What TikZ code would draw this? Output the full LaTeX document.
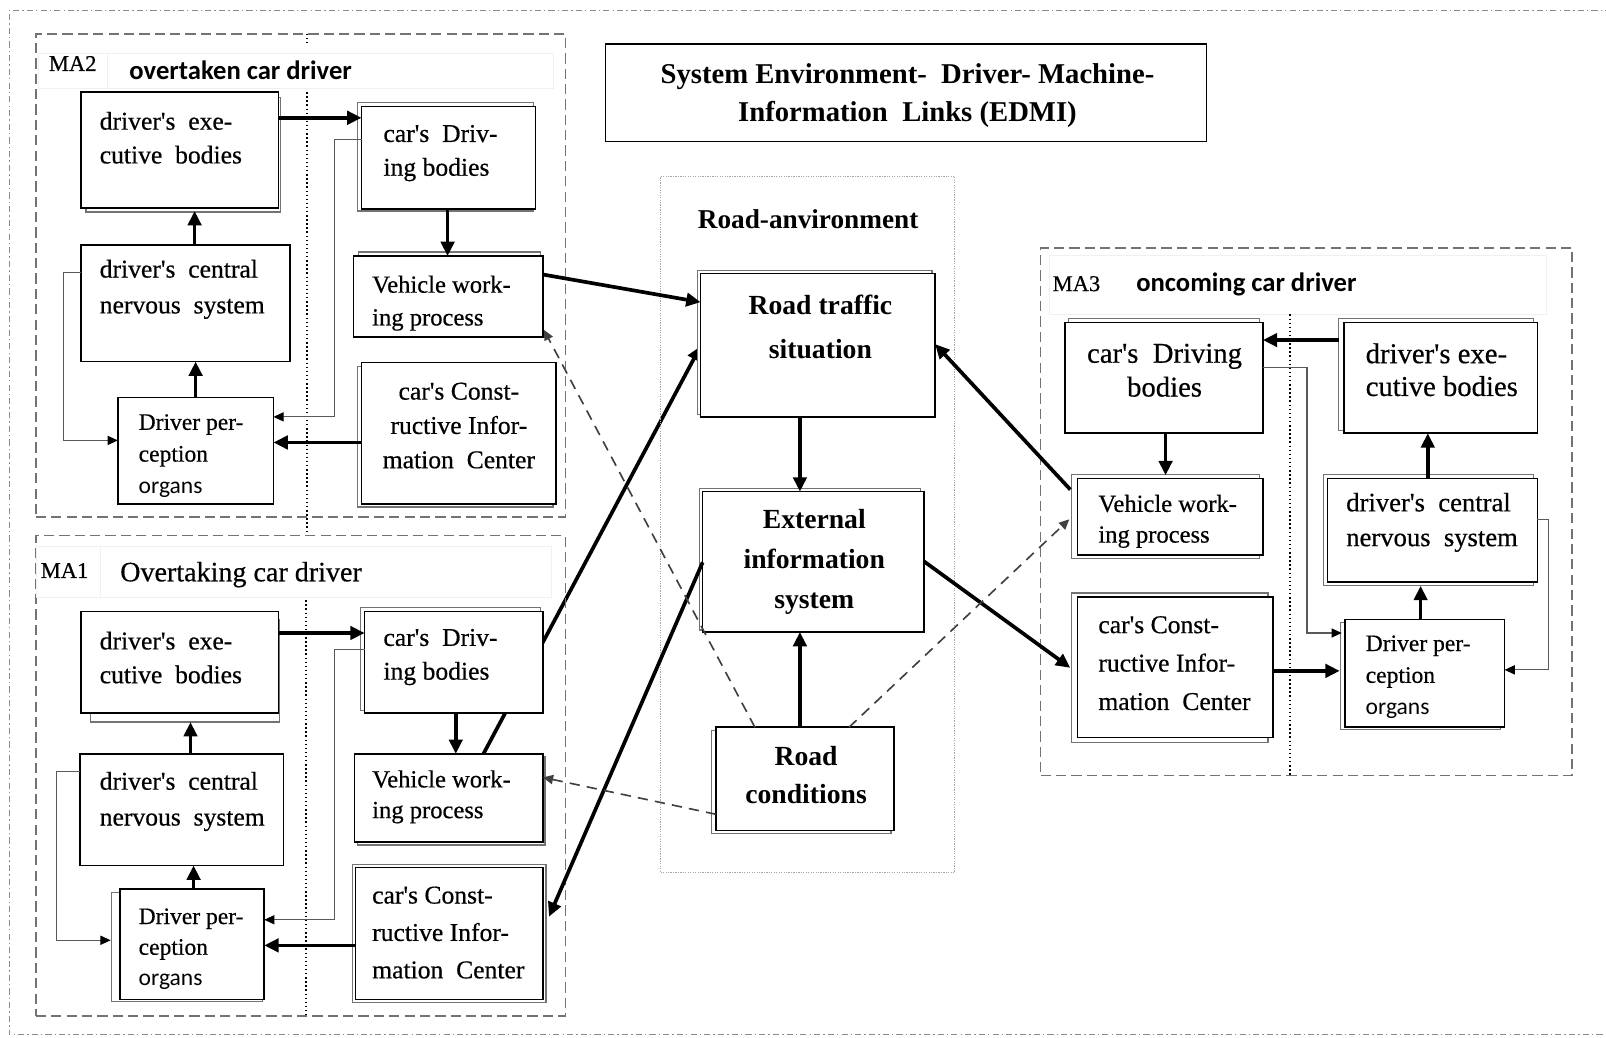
\documentclass[tikz,border=0pt]{standalone}
\usepackage{fontspec}
\setmainfont{Liberation Serif}[UprightFeatures={FakeBold=0.5}]
\newfontfamily\calfont{Carlito}
\usetikzlibrary{arrows.meta,fit,calc}
\pgfdeclarelayer{bgfill}
\pgfdeclarelayer{back}
\pgfsetlayers{bgfill,back,main}
\newcommand\apos{\textquotesingle}
\newcommand\fz[2]{\fontsize{#1}{#2}\selectfont}
% a framed block given by its two corners (x1,y1) (x2,y2)
\newcommand\boxnode[5]{\node[blk,fit={(#2,#3) (#4,#5)}] (#1) {};}
% the offset outline that sits behind a block
\newcommand\backrect[4]{\draw[shdl] (#1,#2) rectangle (#3,#4);}
\tikzset{
  blk/.style={draw=black, line width=0.75pt, fill=white, inner sep=0pt, outer sep=0pt},
  shdl/.style={draw=black!55, line width=0.6pt, fill=white},
  txt/.style={inner sep=0pt, align=left, anchor=west, font=\fz{12.5pt}{16.5pt}},
  ctxt/.style={inner sep=0pt, align=center, anchor=center},
  cbold/.style={inner sep=0pt, align=center, font=\bfseries\fz{13.5pt}{20pt}},
  thk/.style={line width=1.8pt, -{Triangle[length=7pt,width=6.5pt]}},
  thn/.style={line width=0.55pt, draw=black!65, -{Triangle[length=5pt,width=4.5pt,color=black]}},
  dsh/.style={line width=0.8pt, draw=black!75, dash pattern=on 5pt off 3.5pt, -{Triangle[length=5pt,width=4.5pt]}},
  grp/.style={draw=black!55, line width=0.75pt, dash pattern=on 5pt off 2.5pt, inner sep=0pt},
  sep/.style={draw=black, line width=1pt, dash pattern=on 0.7pt off 1.3pt},
  outer/.style={draw=black!45, line width=0.6pt, dash pattern=on 3pt off 1.5pt on 0.7pt off 1.5pt},
  envbox/.style={draw=black!35, line width=0.6pt, dash pattern=on 0.6pt off 0.6pt, inner sep=0pt},
  faint/.style={draw=black!6, line width=0.5pt},
  malab/.style={inner sep=0pt, font=\fz{11pt}{13pt}},
  hdr/.style={inner sep=0pt, anchor=west, font=\calfont\bfseries\fz{13pt}{15pt}},
}
\begin{document}
\begin{tikzpicture}[x=0.5pt,y=-0.5pt]
\useasboundingbox (0,0) rectangle (1568,1013);
\begin{pgfonlayer}{bgfill}
\fill[white] (0,0) rectangle (1568,1013);
\end{pgfonlayer}
\draw[outer] (1600,10) -- (9,10) -- (9,1010) -- (1600,1010);

% ---------- title ----------
\node[blk,fit={(591,43) (1178,138)}] (title) {};
\node[ctxt,font=\bfseries\fz{14pt}{18.5pt}] (title-t) at (886,93.5)
  {System Environment-\ \ Driver- Machine-\\Information\ \ Links (EDMI)};

% ---------- MA2: overtaken car driver ----------
\node[grp,fit={(35,33) (552,505)}] (ma2) {};
\draw[faint] (38,52) rectangle (540,86);
\draw[faint] (38,52) rectangle (105,86);
\node[malab] (ma2-l) at (71,62) {MA2};
\node[hdr] (ma2-h) at (126,69) {overtaken car driver};
\draw[sep] (300,33) -- (300,43);
\draw[sep] (300,90) -- (300,523);

\backrect{84}{95}{274}{207}
\boxnode{e2}{79}{90}{272}{203}
\node[txt] (e2-t) at (97,134.5) {driver\apos s\ \ exe-\\cutive\ \ bodies};
\backrect{349}{100}{521}{206}
\boxnode{d2}{353}{104}{523}{204}
\node[txt] (d2-t) at (374,149.5) {car\apos s\ \ Driv-\\ing bodies};
\boxnode{c2}{79}{239}{283}{353}
\node[txt,font=\fz{12.5pt}{17.5pt}] (c2-t) at (97,282.5) {driver\apos s\ \ central\\nervous\ \ system};
\backrect{350}{246}{528}{327}
\boxnode{v2}{345}{250}{530}{329}
\node[txt,font=\fz{12pt}{16pt}] (v2-t) at (363,296) {Vehicle work-\\ing process};
\boxnode{p2}{115}{388}{267}{492}
\node[txt,font=\fz{11.5pt}{15.5pt}] (p2-t) at (135,445) {Driver per-\\ception\\{\calfont organs}};
\backrect{349}{358}{540}{495}
\boxnode{k2}{353}{354}{543}{492}
\node[ctxt,font=\fz{12.5pt}{16.75pt}] (k2-t) at (448,415.5) {car\apos s Const-\\ructive Infor-\\mation\ \ Center};

\draw[thk] (e2.east |- 0,115) -- (d2.west |- 0,115);
\draw[thk] (d2.south -| 437,0) -- (v2.north -| 437,0);
\draw[thk] (c2.north -| 190,0) -- ($(e2.south -| 190,0)+(0,3)$);
\draw[thk] (p2.north -| 191,0) -- (c2.south -| 191,0);
\draw[thk] (k2.west |- 0,432) -- (p2.east |- 0,432);
\draw[thn] (d2.west |- 0,136) -- (327,136) -- (327,407) -- (p2.east |- 0,407);
\draw[thn] (c2.west |- 0,266) -- (62,266) -- (62,430) -- (p2.west |- 0,430);

% ---------- MA1: overtaking car driver ----------
\node[grp,fit={(35,523) (552,992)}] (ma1) {};
\draw[faint] (36,534) rectangle (538,583);
\draw[faint] (36,534) rectangle (98,583);
\node[malab] (ma1-l) at (63,557) {MA1};
\node[inner sep=0pt,anchor=west,font=\fz{13.7pt}{15pt}] (ma1-h) at (117,561) {Overtaking car driver};
\draw[sep] (299,586) -- (299,992);

\backrect{88}{605}{273}{705}
\boxnode{e1}{79}{597}{272}{696}
\node[txt] (e1-t) at (97,642) {driver\apos s\ \ exe-\\cutive\ \ bodies};
\backrect{352}{593}{528}{694}
\boxnode{d1}{356}{597}{530}{696}
\node[txt] (d1-t) at (374,641.5) {car\apos s\ \ Driv-\\ing bodies};
\boxnode{c1}{78}{736}{277}{845}
\node[txt,font=\fz{12.5pt}{17.5pt}] (c1-t) at (97,782.5) {driver\apos s\ \ central\\nervous\ \ system};
\backrect{349}{739}{532}{825}
\boxnode{v1}{346}{736}{530}{822}
\node[txt,font=\fz{12pt}{15pt}] (v1-t) at (363,778) {Vehicle work-\\ing process};
\backrect{109}{871}{256}{978}
\boxnode{p1}{117}{868}{258}{976}
\node[txt,font=\fz{11.5pt}{15pt}] (p1-t) at (135,926.5) {Driver per-\\ception\\{\calfont organs}};
\backrect{344}{844}{533}{979}
\boxnode{k1}{347}{847}{530}{976}
\node[txt,font=\fz{12.5pt}{18.25pt}] (k1-t) at (363,910.5) {car\apos s Const-\\ructive Infor-\\mation\ \ Center};

\draw[thk] (e1.east |- 0,618) -- (d1.west |- 0,618);
\draw[thk] (d1.south -| 445,0) -- (v1.north -| 445,0);
\draw[thk] (c1.north -| 186,0) -- ($(e1.south -| 186,0)+(0,9)$);
\draw[thk] (p1.north -| 189,0) -- (c1.south -| 189,0);
\draw[thk] (k1.west |- 0,923) -- (p1.east |- 0,923);
\draw[thn] (d1.west |- 0,634) -- (327,634) -- (327,898) -- (p1.east |- 0,898);
\draw[thn] (c1.west |- 0,753) -- (55,753) -- (55,918) -- ($(p1.west |- 0,918)+(-9,0)$);

% ---------- road environment ----------
\node[envbox,fit={(645,172) (932,852)}] (env) {};
\node[inner sep=0pt,font=\bfseries\fz{13.3pt}{15pt}] (env-t) at (789,214) {Road-anvironment};
\backrect{681}{264}{910}{405}
\boxnode{rt}{684}{267}{913}{407}
\node[cbold,font=\bfseries\fz{13.5pt}{21.5pt}] (rt-t) at (801,319.5) {Road traffic\\situation};
\backrect{683}{477}{899}{615}
\boxnode{ei}{686}{480}{902}{617}
\node[cbold,font=\bfseries\fz{13.5pt}{19.5pt}] (ei-t) at (795,549) {External\\information\\system};
\backrect{695}{713}{870}{814}
\boxnode{rc}{699}{710}{873}{811}
\node[cbold,font=\bfseries\fz{13.5pt}{18.5pt}] (rc-t) at (787,756.5) {Road\\conditions};

% ---------- MA3: oncoming car driver ----------
\node[grp,fit={(1016,242) (1535,757)}] (ma3) {};
\draw[faint] (1025,249) rectangle (1510,307);
\node[malab] (ma3-l) at (1051,277) {MA3};
\node[hdr] (ma3-h) at (1109,278) {oncoming car driver};
\draw[sep] (1259,307) -- (1259,757);

\backrect{1043}{311}{1230}{420}
\boxnode{dr3}{1040}{315}{1233}{423}
\node[ctxt,font=\fz{14pt}{16.5pt}] (dr3-t) at (1137,361.5) {car\apos s\ \ Driving\\bodies};
\backrect{1307}{311}{1497}{420}
\boxnode{ex3}{1312}{315}{1501}{423}
\node[txt,font=\fz{14pt}{16pt}] (ex3-t) at (1333,361) {driver\apos s exe-\\cutive bodies};
\backrect{1046}{463}{1230}{545}
\boxnode{ve3}{1052}{467}{1233}{542}
\node[txt,font=\fz{12pt}{15pt}] (ve3-t) at (1072,509) {Vehicle work-\\ing process};
\backrect{1046}{579}{1238}{725}
\boxnode{k3}{1052}{583}{1243}{720}
\node[txt,font=\fz{12.5pt}{18.75pt}] (k3-t) at (1072,647.5) {car\apos s Const-\\ructive Infor-\\mation\ \ Center};
\backrect{1292}{463}{1497}{572}
\boxnode{cn3}{1296}{467}{1501}{568}
\node[txt,font=\fz{13pt}{17pt}] (cn3-t) at (1314,510) {driver\apos s\ \ central\\nervous\ \ system};
\backrect{1309}{608}{1465}{712}
\boxnode{p3}{1313}{605}{1469}{710}
\node[txt,font=\fz{11.5pt}{15.5pt}] (p3-t) at (1333,661) {Driver per-\\ception\\{\calfont organs}};

\draw[thk] ($(ex3.west |- 0,332)+(-5,0)$) -- (dr3.east |- 0,332);
\draw[thn] (dr3.east |- 0,359) -- (1276,359) -- (1276,618) -- ($(p3.west |- 0,618)+(-3,0)$);
\draw[thk] (dr3.south -| 1138,0) -- ($(ve3.north -| 1138,0)+(0,-3)$);
\draw[thk] (cn3.north -| 1394,0) -- (ex3.south -| 1394,0);
\draw[thk] (p3.north -| 1387,0) -- ($(cn3.south -| 1387,0)+(0,4)$);
\draw[thn] (cn3.east |- 0,507) -- (1512,507) -- (1512,654) -- (p3.east |- 0,654);
\draw[thk] (k3.east |- 0,655) -- ($(p3.west |- 0,655)+(-5,0)$);

% ---------- links between the agents and the road environment ----------
\draw[thk] (v2.east |- 0,268) -- (rt.west |- 0,295);
\draw[thk] (rt.south -| 781,0) -- (ei.north -| 781,0);
\draw[thk] (rc.north -| 781,0) -- (ei.south -| 781,0);
\draw[thk] (ei.west |- 0,549) -- ($(k1.east |- 0,895)+(6,0)$);
\draw[thk] (ei.east |- 0,548) -- ($(k3.west |- 0,652)+(-7,0)$);
\draw[thk] ($(ve3.west |- 0,478)+(-7,0)$) -- (rt.east |- 0,336);
\draw[dsh] (rc.north -| 737,0) -- ($(v2.south east)+(1,-7)$);
\draw[dsh] (rc.north -| 829,0) -- ($(ve3.west |- 0,507)+(-8,0)$);
\draw[dsh] (rc.west |- 0,795) -- (v1.east |- 0,759);
\begin{pgfonlayer}{back}
\draw[thk] ($(v1.north west)+(126,0)$) -- (rt.west |- 0,338);
\end{pgfonlayer}
\end{tikzpicture}
\end{document}
